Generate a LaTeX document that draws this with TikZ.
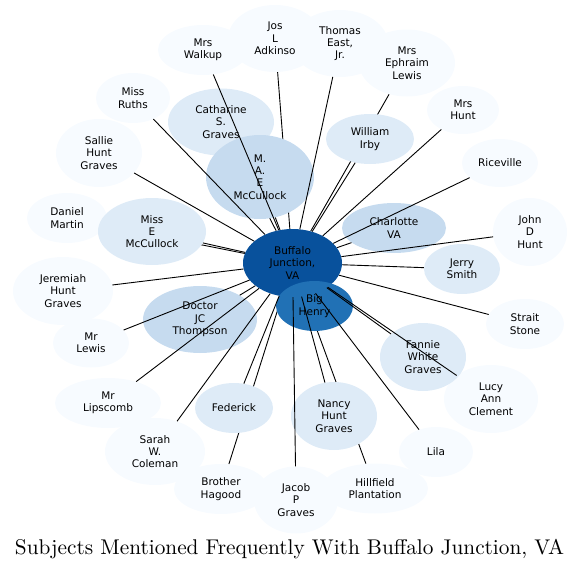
\documentclass[tikz,border=0pt]{standalone}
\usepackage{fontspec}
\usetikzlibrary{shapes.geometric}
\newfontfamily\dv{DejaVu Sans}
\definecolor{cz}{HTML}{F7FBFF}
\definecolor{ca}{HTML}{DEEBF7}
\definecolor{cb}{HTML}{C6DBEF}
\definecolor{cc}{HTML}{2171B5}
\definecolor{cd}{HTML}{08519C}
\pgfdeclarelayer{background}
\pgfsetlayers{background,main}
\begin{document}
\begin{tikzpicture}[x=1pt,y=-1pt,
  nd/.style={ellipse, inner sep=0pt, align=center, draw=none,
    font=\dv\fontsize{10.5}{12.3}\selectfont, text=black},
  sz/.style 2 args={minimum width=#1pt, minimum height=#2pt},
  edge/.style={draw=black, line width=0.9pt}]
\useasboundingbox (0,0) rectangle (579,570);
% outer nodes
\node[nd, fill=cz, sz={90}{50}] (walk) at (203,50) {Mrs\\Walkup};
\node[nd, fill=cz, sz={96}{67}] (thom) at (340,43.5) {Thomas\\East,\\Jr.};
\node[nd, fill=cz, sz={94}{67}] (adk) at (275,38.5) {Jos\\L\\Adkinso};
\node[nd, fill=cz, sz={96}{67}] (ephr) at (407,63) {Mrs\\Ephraim\\Lewis};
\node[nd, fill=cz, sz={72}{48}] (mhunt) at (463,110) {Mrs\\Hunt};
\node[nd, fill=cz, sz={76}{48}] (rice) at (500,163) {Riceville};
\node[nd, fill=cz, sz={74}{68}] (jdh) at (530,232) {John\\D\\Hunt};
\node[nd, fill=cz, sz={78}{50}] (strait) at (525,324) {Strait\\Stone};
\node[nd, fill=cz, sz={94}{68}] (lucy) at (491,399) {Lucy\\Ann\\Clement};
\node[nd, fill=cz, sz={74}{50}] (lila) at (436,452) {Lila};
\node[nd, fill=cz, sz={94}{50}] (hag) at (221,489) {Brother\\Hagood};
\node[nd, fill=cz, sz={106}{50}] (hill) at (375,488.5) {Hillfield\\Plantation};
\node[nd, fill=cz, sz={84}{67}] (jacob) at (296,500) {Jacob\\P\\Graves};
\node[nd, fill=cz, sz={106}{50}] (lips) at (108,403) {Mr\\Lipscomb};
\node[nd, fill=cz, sz={100}{67}] (sarah) at (155,451.5) {Sarah\\W.\\Coleman};
\node[nd, fill=cz, sz={100}{68}] (jer) at (63,291) {Jeremiah\\Hunt\\Graves};
\node[nd, fill=cz, sz={76}{49}] (mlewis) at (91,343) {Mr\\Lewis};
\node[nd, fill=cz, sz={80}{50}] (dan) at (67,218) {Daniel\\Martin};
\node[nd, fill=cz, sz={86}{68}] (sallie) at (99,153) {Sallie\\Hunt\\Graves};
\node[nd, fill=cz, sz={74}{50}] (ruths) at (133,98) {Miss\\Ruths};
% inner nodes
\node[nd, fill=ca, sz={106}{67}] (cath) at (221,122) {Catharine\\S.\\Graves};
\node[nd, fill=cb, sz={108}{84}] (mae) at (260,177) {M.\\A.\\E\\McCullock};
\node[nd, fill=ca, sz={88}{50}] (irby) at (370,139) {William\\Irby};
\node[nd, fill=cb, sz={104}{50}] (charl) at (394,228) {Charlotte\\VA};
\node[nd, fill=ca, sz={76}{50}] (jerry) at (462,269) {Jerry\\Smith};
\node[nd, fill=ca, sz={86}{68}] (fan) at (423,357) {Fannie\\White\\Graves};
\node[nd, fill=ca, sz={86}{68}] (nancy) at (334,416) {Nancy\\Hunt\\Graves};
\node[nd, fill=ca, sz={78}{50}] (fed) at (234,408) {Federick};
\node[nd, fill=cb, sz={114}{67}] (doc) at (200,319.5) {Doctor\\JC\\Thompson};
\node[nd, fill=ca, sz={108}{67}] (misse) at (152,231.5) {Miss\\E\\McCullock};
% centre
\node[nd, fill=cd, sz={99}{68}] (bj) at (292.5,263) {Buffalo\\Junction,\\VA};
\node[nd, fill=cc, sz={77}{50}] (big) at (314.5,306) {Big\\Henry};
% hidden edges
\begin{pgfonlayer}{background}
\foreach \t in {adk,cath,dan,hag,hill,ephr,big}
  \draw[edge] (bj) -- (\t);
\end{pgfonlayer}
% visible edges
\foreach \t in {walk,thom,mhunt,irby,rice,charl,jdh,jerry,strait,fan,lucy,lila,nancy,jacob,fed,sarah,lips,mlewis,doc,jer,misse,sallie,ruths,mae}
  \draw[edge] (bj) -- (\t);
% title
\node[anchor=base, inner sep=0pt] (title) at (289.5,554)
  {\scalebox{2.13}{Subjects Mentioned Frequently With Buffalo Junction, VA}};
\end{tikzpicture}
\end{document}
